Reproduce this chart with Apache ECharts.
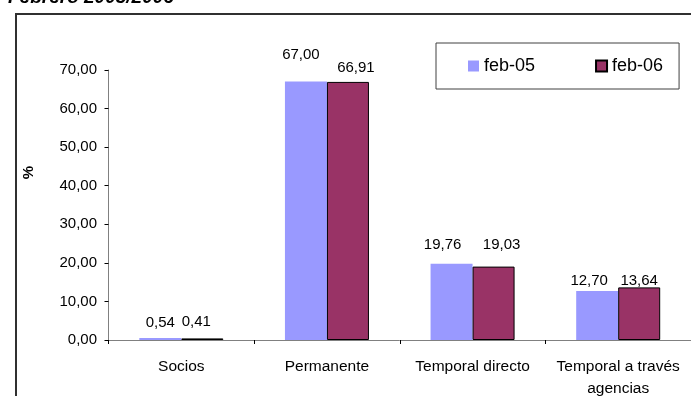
<!DOCTYPE html>
<html>
<head>
<meta charset="utf-8">
<title>Febrero 2005/2006</title>
<script src="https://cdn.jsdelivr.net/npm/echarts@6/dist/echarts.min.js"></script>
<style>
  html, body { margin: 0; padding: 0; background: #fff; }
  #chart { width: 691px; height: 396px; }
</style>
</head>
<body>
<div id="chart"></div>
<script>
// Categories and values (percentages)
const categories = ['Socios', 'Permanente', 'Temporal directo', 'Temporal a través\nagencias'];
const seriesNames = ['feb-05', 'feb-06'];
const feb05 = [0.54, 67.00, 19.76, 12.70];
const feb06 = [0.41, 66.91, 19.03, 13.64];

// Y axis ticks
const yMin = 0, yMax = 70, yStep = 10;

// Label nudges for each bar (x, y in px), kept apart from the values
const feb05LabelShift = [[0, -8], [-5, -19], [-9, -11], [-8, -3]];
const feb06LabelShift = [[-6, -9], [8, -7], [8, -14], [0, 1]];

const FONT = 'Liberation Sans, Arial, sans-serif';
const comma = v => Number(v).toFixed(2).replace('.', ',');

function withLabels(values, shifts) {
  return values.map((v, i) => ({ value: v, label: { offset: shifts[i] } }));
}

const chart = echarts.init(document.getElementById('chart'), null, { renderer: 'canvas' });

chart.setOption({
  animation: false,
  backgroundColor: '#ffffff',
  textStyle: { fontFamily: FONT },
  grid: { left: 108.5, right: 0, top: 70, bottom: 56, containLabel: false, outerBoundsMode: 'none' },
  legend: {
    left: 436,
    top: 43,
    padding: [14, 16, 14, 32],
    itemGap: 60,
    itemWidth: 11,
    itemHeight: 11,
    borderColor: '#404040',
    borderWidth: 1,
    icon: 'rect',
    textStyle: { fontFamily: FONT, fontSize: 18, color: '#000' },
    data: seriesNames
  },
  xAxis: {
    type: 'category',
    data: categories,
    axisLine: { lineStyle: { color: '#808080', width: 1 } },
    axisTick: { show: true, length: 4, lineStyle: { color: '#000' } },
    axisLabel: { fontFamily: FONT, fontSize: 15.5, color: '#000', margin: 16, lineHeight: 22, interval: 0 }
  },
  yAxis: {
    type: 'value',
    min: yMin,
    max: yMax,
    interval: yStep,
    splitLine: { show: false },
    axisLine: { show: true, lineStyle: { color: '#808080', width: 1 } },
    axisTick: { show: true, length: 4, lineStyle: { color: '#000' } },
    axisLabel: { fontFamily: FONT, fontSize: 15, color: '#000', margin: 11.5, formatter: comma }
  },
  series: [
    {
      name: seriesNames[0],
      type: 'bar',
      barWidth: 42,
      barGap: '0%',
      itemStyle: { color: '#9999ff' },
      label: { show: true, position: 'top', distance: 0, fontFamily: FONT, fontSize: 15, color: '#000', formatter: p => comma(p.value) },
      data: withLabels(feb05, feb05LabelShift)
    },
    {
      name: seriesNames[1],
      type: 'bar',
      barWidth: 42,
      barGap: '0%',
      itemStyle: { color: '#993366', borderColor: '#000', borderWidth: 1 },
      label: { show: true, position: 'top', distance: 0, fontFamily: FONT, fontSize: 15, color: '#000', formatter: p => comma(p.value) },
      data: withLabels(feb06, feb06LabelShift)
    }
  ],
  graphic: [
    // chart frame
    { type: 'rect', shape: { x: 16, y: 14, width: 700, height: 420 }, style: { fill: null, stroke: '#303030', lineWidth: 2 }, silent: true, z: -1 },
    // heading, partly above the page edge
    { type: 'text', x: 8, y: 7, style: { text: 'Febrero 2005/2006', font: 'italic bold 19px ' + FONT, lineHeight: 19, fill: '#000', verticalAlign: 'bottom' } },
    // axis title
    { type: 'text', x: 29, y: 172.5, rotation: Math.PI / 2, style: { text: '%', font: 'bold 15px ' + FONT, fill: '#000', align: 'center', verticalAlign: 'middle' } }
  ]
});
</script>
</body>
</html>
